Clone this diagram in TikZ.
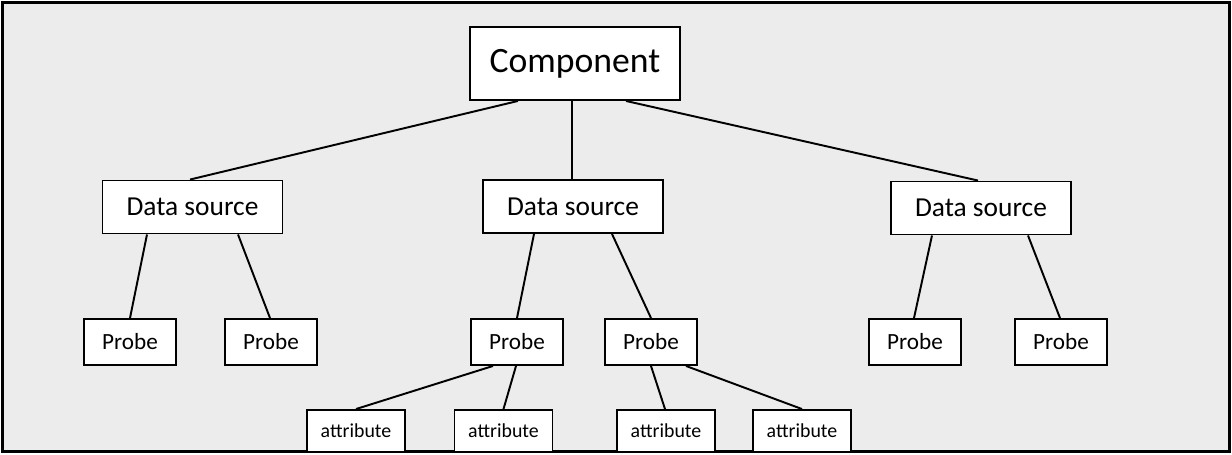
\documentclass[tikz,border=0pt]{standalone}
\usepackage{fontspec}
\setmainfont{Carlito}
\usepackage{xcolor}
\usetikzlibrary{calc, positioning}
\definecolor{panelgray}{HTML}{ECECEC}

\tikzset{
  box/.style={draw, fill=white, line width=1.1pt, inner sep=0pt, text centered},
  compbox/.style={box, minimum width=4.2cm, minimum height=1.46cm, font=\fontsize{20.3}{24}\selectfont},
  srcbox/.style={box, minimum width=3.6cm, minimum height=1.06cm, font=\fontsize{15.6}{19}\selectfont},
  probebox/.style={box, minimum width=1.84cm, minimum height=0.92cm, font=\fontsize{13.2}{16}\selectfont},
  attrbox/.style={box, minimum width=1.96cm, minimum height=0.84cm, font=\fontsize{11.3}{14}\selectfont},
  link/.style={line width=1.1pt}
}

\begin{document}
\begin{tikzpicture}[x=0.02cm, y=-0.02cm]
\useasboundingbox (0,0) rectangle (1232,454);
\draw[fill=panelgray, line width=1.4pt] (2.5,2.5) rectangle (1229.5,451.5);
% nodes %
\node[compbox] (comp) at (575,63.5) {Component};
\node[srcbox] (dsl) at (192.5,207) {Data source};
\node[srcbox] (dsm) at (573,206.5) {Data source};
\node[srcbox] (dsr) at (981,208) {Data source};
\node[probebox] (pl1) at (130,342) {Probe};
\node[probebox] (pl2) at (271,342) {Probe};
\node[probebox] (pm1) at (517,342) {Probe};
\node[probebox] (pm2) at (651,342) {Probe};
\node[probebox] (pr1) at (915,342) {Probe};
\node[probebox] (pr2) at (1061,342) {Probe};
\node[attrbox] (a1) at (356,431) {attribute};
\node[attrbox] (a2) at (503.5,431) {attribute};
\node[attrbox] (a3) at (666,431) {attribute};
\node[attrbox] (a4) at (802,431) {attribute};
% edges %
\draw[link] ($(comp.south)+(-57,0)$) -- ($(dsl.north)+(-2.5,0)$);
\draw[link] ($(comp.south)+(-3,0)$) -- ($(dsm.north)+(-1,0)$);
\draw[link] ($(comp.south)+(51,0)$) -- ($(dsr.north)+(-3,0)$);
\draw[link] ($(dsl.south)+(-45.5,0)$) -- (pl1.north);
\draw[link] ($(dsl.south)+(45.5,0)$) -- ($(pl2.north)+(-1,0)$);
\draw[link] ($(dsm.south)+(-39,0)$) -- (pm1.north);
\draw[link] ($(dsm.south)+(39,0)$) -- (pm2.north);
\draw[link] ($(dsr.south)+(-49,0)$) -- ($(pr1.north)+(-1,0)$);
\draw[link] ($(dsr.south)+(47,0)$) -- ($(pr2.north)+(-1,0)$);
\draw[link] ($(pm1.south)+(-24,0)$) -- (a1.north);
\draw[link] ($(pm1.south)+(-1,0)$) -- (a2.north);
\draw[link] (pm2.south) -- ($(a3.north)+(-1,0)$);
\draw[link] ($(pm2.south)+(35,0)$) -- (a4.north);
\end{tikzpicture}
\end{document}
